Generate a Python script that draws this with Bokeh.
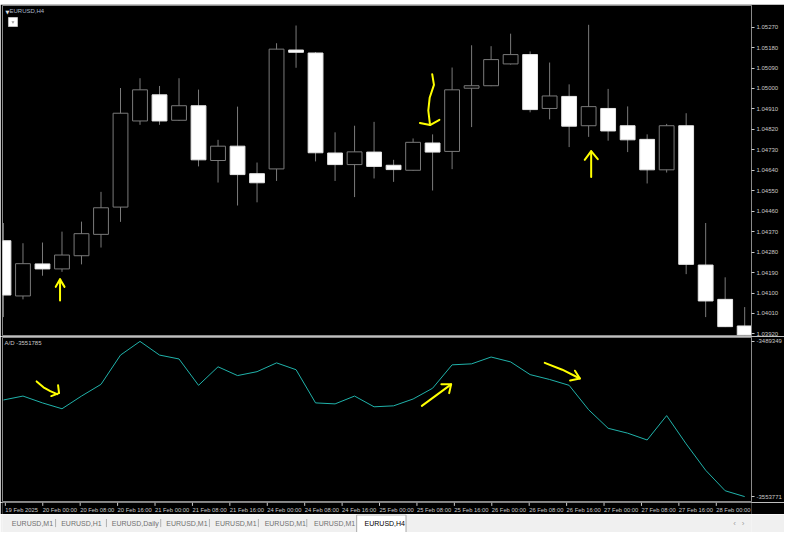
from bokeh.plotting import figure
from bokeh.layouts import column
from bokeh.models import ColumnDataSource, FixedTicker, PrintfTickFormatter, Range1d
from bokeh.embed import file_html
from bokeh.resources import INLINE
from bokeh.core.properties import value

# ---------------- data ----------------
symbol = "EURUSD,H4"
time_labels = ["19 Feb 2025", "20 Feb 00:00", "20 Feb 08:00", "20 Feb 16:00", "21 Feb 00:00",
               "21 Feb 08:00", "21 Feb 16:00", "24 Feb 00:00", "24 Feb 08:00", "24 Feb 16:00",
               "25 Feb 00:00", "25 Feb 08:00", "25 Feb 16:00", "26 Feb 00:00", "26 Feb 08:00",
               "26 Feb 16:00", "27 Feb 00:00", "27 Feb 08:00", "27 Feb 16:00", "28 Feb 00:00"]
label_bars = [0, 2, 4, 6, 8, 10, 12, 14, 16, 18, 20, 22, 24, 26, 28, 30, 32, 34, 36, 38]

opens = [1.04330, 1.04087, 1.04228, 1.04206, 1.04264, 1.04358, 1.04478, 1.04857, 1.04972, 1.04860,
         1.04924, 1.04683, 1.04746, 1.04625, 1.04646, 1.05169, 1.05156, 1.04716, 1.04665, 1.04720,
         1.04662, 1.04640, 1.04760, 1.04723, 1.05001, 1.05012, 1.05108, 1.05149, 1.04912, 1.04965,
         1.04836, 1.04912, 1.04836, 1.04776, 1.04642, 1.04836, 1.04223, 1.04072, 1.03955]
highs = [1.04408, 1.04319, 1.04322, 1.04370, 1.04414, 1.04545, 1.05002, 1.05045, 1.05011, 1.05045,
         1.04995, 1.04774, 1.04920, 1.04674, 1.05199, 1.05277, 1.05160, 1.04807, 1.04836, 1.04853,
         1.04686, 1.04780, 1.04798, 1.05092, 1.05190, 1.05186, 1.05241, 1.05163, 1.05114, 1.05018,
         1.05280, 1.04998, 1.04921, 1.04798, 1.04844, 1.04891, 1.04408, 1.04169, 1.04038]
lows = [1.03994, 1.04072, 1.04176, 1.04193, 1.04226, 1.04300, 1.04413, 1.04840, 1.04840, 1.04857,
        1.04657, 1.04586, 1.04485, 1.04499, 1.04593, 1.05091, 1.04679, 1.04593, 1.04522, 1.04604,
        1.04589, 1.04638, 1.04551, 1.04645, 1.04830, 1.05010, 1.05105, 1.04895, 1.04864, 1.04742,
        1.04787, 1.04770, 1.04720, 1.04582, 1.04630, 1.04183, 1.03994, 1.03950, 1.03912]
closes = [1.04091, 1.04229, 1.04206, 1.04267, 1.04361, 1.04475, 1.04891, 1.04994, 1.04857, 1.04924,
          1.04686, 1.04746, 1.04621, 1.04585, 1.05173, 1.05159, 1.04717, 1.04665, 1.04721, 1.04657,
          1.04643, 1.04763, 1.04720, 1.04994, 1.05012, 1.05127, 1.05149, 1.04907, 1.04967, 1.04834,
          1.04920, 1.04813, 1.04774, 1.04642, 1.04836, 1.04226, 1.04065, 1.03952, 1.03915]

ad_values = [-3513661, -3512040, -3514877, -3517308, -3512040, -3507178, -3495022, -3489349,
             -3495022, -3496643, -3507583, -3499884, -3503531, -3501910, -3498263, -3501100,
             -3514877, -3515282, -3512040, -3516497, -3516092, -3513256, -3508799, -3499074,
             -3498669, -3495832, -3497858, -3503126, -3505152, -3507583, -3517713, -3525412,
             -3527438, -3530274, -3520144, -3531895, -3542835, -3551345, -3553771]
ad_title = "A/D -3551785"

price_ticks = [1.03920, 1.04010, 1.04100, 1.04190, 1.04280, 1.04370, 1.04460, 1.04550,
               1.04640, 1.04730, 1.04820, 1.04910, 1.05000, 1.05090, 1.05180, 1.05270]
ad_ticks = [-3553771, -3489349]

tab_names = ["EURUSD,M1", "EURUSD,H1", "EURUSD,Daily", "EURUSD,M1", "EURUSD,M1",
             "EURUSD,M1", "EURUSD,M1", "EURUSD,H4"]

# hand-drawn yellow marks (bar index, price) and (bar index, A/D)
marks_price_xs = [[2.9, 2.9], [2.68, 2.9, 3.13],
                  [21.98, 22.07, 21.85, 21.78, 21.85, 21.87], [21.35, 21.87, 22.35],
                  [30.13, 30.13], [29.8, 30.13, 30.47]]
marks_price_ys = [[1.04067, 1.04160], [1.04127, 1.04160, 1.04127],
                  [1.05063, 1.05016, 1.04959, 1.04903, 1.04853, 1.04839], [1.04848, 1.04839, 1.04862],
                  [1.04610, 1.04724], [1.04686, 1.04724, 1.04689]]
marks_ad_xs = [[1.7, 2.05, 2.4, 2.75], [2.8, 2.85, 2.45],
               [21.45, 22.2, 22.95], [22.45, 22.95, 22.85],
               [27.75, 28.65, 29.55], [29.3, 29.55, 29.05]]
marks_ad_ys = [[-3505962, -3508393, -3510014, -3511230], [-3507583, -3510825, -3512040],
               [-3516092, -3511635, -3507178], [-3507178, -3507178, -3510825],
               [-3498263, -3501100, -3504747], [-3501505, -3504747, -3505557]]

# ---------------- style / layout ----------------
FONT = "Liberation Sans"
W = 784
AXW = 30
LEFT = 2
TXT = "#c8c8c8"
FRAME = "#8a8a8a"
WICK = "#7a7a7a"
H0, H1, H2, H3, H4 = 4, 332, 166, 12, 18

n = len(opens)
xr = Range1d(-0.05, n - 1 + 0.35)
ppb = (W - LEFT - AXW) / (xr.end - xr.start)   # pixels per bar


def base_fig(height, y_range, **kw):
    f = figure(width=W, height=height, x_range=kw.pop("x_range", xr), y_range=y_range,
               output_backend="svg", toolbar_location=None,
               background_fill_color="black", border_fill_color="black", **kw)
    f.grid.visible = False
    return f


def style_axis(ax):
    ax.major_label_text_font = FONT
    ax.major_label_text_font_size = "6px"
    ax.major_label_text_color = TXT
    ax.axis_line_color = FRAME
    ax.major_tick_line_color = TXT
    ax.major_tick_out = 3
    ax.major_tick_in = 0
    ax.minor_tick_line_color = None
    ax.major_label_standoff = 2


# ---------------- top tool strip ----------------
p0 = figure(width=W, height=H0, x_range=Range1d(0, 1), y_range=Range1d(0, 1),
            output_backend="svg", toolbar_location=None, x_axis_location=None,
            y_axis_location=None, min_border=0, min_border_left=0, min_border_right=0,
            min_border_top=0, min_border_bottom=0, outline_line_color=None,
            background_fill_color="#ececec", border_fill_color="#ececec")
p0.grid.visible = False

# ---------------- price panel ----------------
yr1 = Range1d(1.03913, 1.05365)
p1 = base_fig(H1, yr1, x_axis_location=None, y_axis_location="right",
              min_border_left=LEFT, min_border_right=AXW, min_border_top=1, min_border_bottom=1,
              outline_line_color=FRAME)
style_axis(p1.yaxis[0])
p1.yaxis.ticker = FixedTicker(ticks=price_ticks)
p1.yaxis.formatter = PrintfTickFormatter(format="%.5f")

idx = list(range(n))
bull = [c > o for o, c in zip(opens, closes)]
src = ColumnDataSource(dict(
    x=idx, high=highs, low=lows,
    top=[max(o, c) for o, c in zip(opens, closes)],
    bottom=[min(o, c) for o, c in zip(opens, closes)],
    fill=["black" if b else "white" for b in bull],
    line=[WICK if b else "#e6e6e6" for b in bull],
))
p1.segment(x0="x", y0="low", x1="x", y1="high", line_color=WICK, line_width=1, source=src)
p1.vbar(x="x", width=0.76, top="top", bottom="bottom", fill_color="fill",
        line_color="line", line_width=1, source=src)

p1.multi_line(xs=marks_price_xs, ys=marks_price_ys, line_color="#ffff00", line_width=2,
              line_cap="round", line_join="round")

ppp1 = (yr1.end - yr1.start) / (H1 - 2)
p1.text(x=[xr.start], y=[yr1.end], text=["\u25BC"], text_font=value("DejaVu Sans"),
        text_font_size="5px", text_color="#e0e0e0", text_baseline="top", text_align="left",
        x_offset=3, y_offset=3)
p1.text(x=[xr.start], y=[yr1.end], text=[symbol], text_font=value(FONT),
        text_font_size="6px", text_color="#a9b8cc", text_baseline="top", text_align="left",
        x_offset=7, y_offset=2)
p1.scatter(x=[xr.start + 10.5 / ppb], y=[yr1.end - 16.5 * ppp1], marker="square", size=9,
           fill_color="white", line_color="#bdbdbd")
p1.scatter(x=[xr.start + 10.5 / ppb], y=[yr1.end - 16.5 * ppp1], marker="inverted_triangle",
           size=3, fill_color="#9a9a9a", line_color=None)

# ---------------- A/D panel ----------------
yr2 = Range1d(-3555802, -3487728)
p2 = base_fig(H2, yr2, x_axis_location=None, y_axis_location="right",
              min_border_left=LEFT, min_border_right=AXW, min_border_top=1, min_border_bottom=1,
              outline_line_color=FRAME)
style_axis(p2.yaxis[0])
p2.yaxis.ticker = FixedTicker(ticks=ad_ticks)
p2.yaxis.formatter = PrintfTickFormatter(format="%d")
p2.line(x=idx, y=ad_values, line_color="#20b2aa", line_width=1)
p2.multi_line(xs=marks_ad_xs, ys=marks_ad_ys, line_color="#ffff00", line_width=2,
              line_cap="round", line_join="round")
p2.text(x=[xr.start], y=[yr2.end], text=[ad_title], text_font=value(FONT),
        text_font_size="6px", text_color=TXT, text_baseline="top", text_align="left",
        x_offset=2, y_offset=2)

# ---------------- time axis strip ----------------
p3 = base_fig(H3, Range1d(0, 1), x_range=Range1d(xr.start - LEFT / ppb, xr.end + AXW / ppb),
              x_axis_location=None, y_axis_location=None, min_border=0,
              min_border_left=0, min_border_right=0, min_border_top=0, min_border_bottom=0,
              outline_line_color=None)
p3.segment(x0=label_bars, y0=[1.0] * len(label_bars), x1=label_bars, y1=[0.72] * len(label_bars),
           line_color=TXT, line_width=1)
p3.text(x=label_bars, y=[0.38] * len(label_bars), text=time_labels, text_font=value(FONT),
        text_font_size="5.8px", text_color=TXT, text_baseline="middle", text_align="left",
        x_offset=0)

# ---------------- tab strip ----------------
p4 = figure(width=W, height=H4, x_range=Range1d(0, 800), y_range=Range1d(548, 528),
            output_backend="svg", toolbar_location=None, x_axis_location=None,
            y_axis_location=None, min_border=0, min_border_left=0, min_border_right=0,
            min_border_top=0, min_border_bottom=0, outline_line_color=None,
            background_fill_color="#f0f0f0", border_fill_color="#f0f0f0")
p4.grid.visible = False
tab_x = [10, 62.7, 116.7, 175, 227.3, 280, 332.7, 386.7]
sep_x = [56.7, 111, 169, 221, 273.3, 325]
p4.quad(left=[378.3], right=[431], top=[528.5], bottom=[548], fill_color="white",
        line_color="#a8a8a8")
p4.segment(x0=sep_x, y0=[533] * len(sep_x), x1=sep_x, y1=[542] * len(sep_x),
           line_color="#b0b0b0")
p4.text(x=tab_x, y=[537.5] * len(tab_x), text=tab_names, text_font=value(FONT),
        text_font_size="7px", text_baseline="middle", text_align="left",
        text_color=["#707070"] * (len(tab_names) - 1) + ["#000000"])
p4.text(x=[782, 791], y=[537.5, 537.5], text=["\u2039", "\u203A"], text_font=value(FONT),
        text_font_size="8px", text_baseline="middle", text_align="center", text_color="#a0a0a0")

layout = column(p0, p1, p2, p3, p4, spacing=0)
open("out.html", "w").write(file_html(layout, INLINE))
